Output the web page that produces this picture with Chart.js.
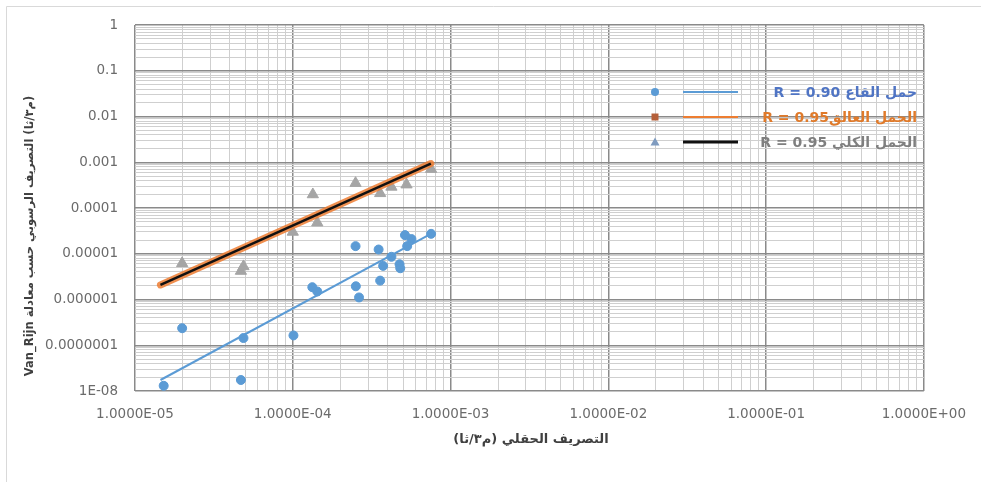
<!DOCTYPE html>
<html>
<head>
<meta charset="utf-8">
<script src="https://cdn.jsdelivr.net/npm/chart.js@4"></script>
<style>
  html, body { margin: 0; padding: 0; background: #fff; }
  #wrap { position: relative; width: 981px; height: 482px; }
</style>
</head>
<body>
<div id="wrap"><canvas id="chart"></canvas></div>
<script>
// field discharge (m3/s) vs Van Rijn sediment discharge
const bedQ = [1.52e-5, 1.99e-5, 4.87e-5, 4.69e-5, 1.01e-4, 1.33e-4, 1.43e-4, 2.5e-4, 2.51e-4, 2.63e-4,
  3.5e-4, 3.58e-4, 3.74e-4, 4.22e-4, 4.75e-4, 4.8e-4, 5.14e-4, 5.65e-4, 5.31e-4, 7.53e-4];
const bedLoad = [1.3e-8, 2.36e-7, 1.44e-7, 1.74e-8, 1.64e-7, 1.86e-6, 1.5e-6, 1.47e-5, 1.95e-6, 1.11e-6,
  1.24e-5, 2.59e-6, 5.44e-6, 8.6e-6, 5.9e-6, 4.83e-6, 2.56e-5, 2.1e-5, 1.47e-5, 2.73e-5];

const totalQ = [1.99e-5, 4.69e-5, 4.87e-5, 1.0e-4, 1.34e-4, 1.43e-4, 2.5e-4, 3.58e-4, 4.22e-4, 5.26e-4, 7.53e-4];
const totalLoad = [6.2e-6, 4.2e-6, 5.3e-6, 3.0e-5, 1.98e-4, 4.8e-5, 3.5e-4, 2.1e-4, 2.9e-4, 3.25e-4, 7.1e-4];
const suspQ = totalQ;
const suspLoad = [6.0e-6, 4.1e-6, 5.2e-6, 2.9e-5, 1.9e-4, 4.7e-5, 3.4e-4, 2.05e-4, 2.8e-4, 3.2e-4, 7.0e-4];

// trend line end points
const trendQ = [1.45e-5, 7.5e-4];
const bedTrend = [1.74e-8, 2.73e-5];
const suspTrend = [2.08e-6, 9.4e-4];
const totalTrend = [2.08e-6, 9.4e-4];

const xTickLabels = ["1.0000E-05", "1.0000E-04", "1.0000E-03", "1.0000E-02", "1.0000E-01", "1.0000E+00"];
const yTickLabels = ["1E-08", "0.0000001", "0.000001", "0.00001", "0.0001", "0.001", "0.01", "0.1", "1"];

const legendItems = [
  { text: "حمل القاع R = 0.90", color: "#4f74c4", line: "#5B9BD5", lw: 2, marker: "circle", mcolor: "#5B9BD5" },
  { text: "الحمل العالقR = 0.95", color: "#e07a2a", line: "#ED7D31", lw: 2, marker: "rect", mcolor: "#b5603a" },
  { text: "الحمل الكلي R = 0.95", color: "#7f7f7f", line: "#111111", lw: 3, marker: "triangle", mcolor: "#7f9bbf" },
];

const pts = (xs, ys) => xs.map((x, i) => ({ x, y: ys[i] }));

function logTicks(lo, hi) {
  const out = [];
  for (let e = lo; e < hi; e++) {
    for (let m = 1; m < 10; m++) out.push(m * Math.pow(10, e));
  }
  out.push(Math.pow(10, hi));
  return out;
}

const isMajor = (v) => Math.abs(Math.log10(v) - Math.round(Math.log10(v))) < 1e-6;

const gridColor = (ctx) => (ctx.tick && isMajor(ctx.tick.value) ? "#8a8a8a" : "#cfcfcf");
const gridWidth = (ctx) => (ctx.tick && isMajor(ctx.tick.value) ? 1.5 : 1);

const extras = {
  id: "extras",
  beforeDraw(chart) {
    const c = chart.ctx;
    c.save();
    c.strokeStyle = "#d9d9d9";
    c.lineWidth = 1;
    c.beginPath();
    c.moveTo(6.5, 482);
    c.lineTo(6.5, 6.5);
    c.lineTo(981, 6.5);
    c.stroke();
    c.restore();
  },
  afterDraw(chart) {
    const c = chart.ctx;
    c.save();
    // axis titles
    c.fillStyle = "#404040";
    c.font = "bold 13px 'DejaVu Sans'";
    c.direction = "rtl";
    c.textAlign = "center";
    c.textBaseline = "middle";
    c.fillText("التصريف الحقلي (م٣/ثا)", 531, 440);

    c.save();
    c.translate(30, 236);
    c.rotate(-Math.PI / 2);
    c.font = "bold 11.5px 'DejaVu Sans'";
    c.fillText("(م٣/ثا) التصريف الرسوبي حسب معادلة Van_Rijn", 0, 0);
    c.restore();

    // legend
    legendItems.forEach((it, i) => {
      const y = 92 + i * 25;
      c.fillStyle = it.mcolor;
      c.beginPath();
      if (it.marker === "circle") {
        c.arc(655, y, 4, 0, Math.PI * 2);
      } else if (it.marker === "rect") {
        c.rect(651.5, y - 3.5, 7, 7);
      } else {
        c.moveTo(655, y - 4.5);
        c.lineTo(659.5, y + 3.5);
        c.lineTo(650.5, y + 3.5);
        c.closePath();
      }
      c.fill();
      c.strokeStyle = it.line;
      c.lineWidth = it.lw;
      c.beginPath();
      c.moveTo(683, y);
      c.lineTo(738, y);
      c.stroke();
      c.fillStyle = it.color;
      c.font = "bold 14px 'DejaVu Sans'";
      c.direction = "rtl";
      c.textAlign = "right";
      c.fillText(it.text, 917, y + 1);
    });
    c.restore();
  },
};

new Chart(document.getElementById("chart"), {
  type: "scatter",
  data: {
    datasets: [
      {
        label: "الحمل الكلي trend",
        data: pts(trendQ, totalTrend),
        showLine: true,
        borderColor: "#111111",
        borderWidth: 2.5,
        pointRadius: 0,
        order: 0,
      },
      {
        label: "الحمل العالق trend",
        data: pts(trendQ, suspTrend),
        showLine: true,
        borderColor: "rgba(237, 125, 49, 0.85)",
        borderWidth: 7,
        borderCapStyle: "round",
        pointRadius: 0,
        order: 1,
      },
      {
        label: "الحمل الكلي",
        data: pts(totalQ, totalLoad),
        pointStyle: "triangle",
        pointRadius: 6.5,
        backgroundColor: "#a5a5a5",
        borderColor: "#a5a5a5",
        order: 2,
      },
      {
        label: "الحمل العالق",
        data: pts(suspQ, suspLoad),
        pointStyle: "rect",
        pointRadius: 2.5,
        backgroundColor: "#ED7D31",
        borderColor: "#ED7D31",
        order: 3,
      },
      {
        label: "حمل القاع trend",
        data: pts(trendQ, bedTrend),
        showLine: true,
        borderColor: "#5B9BD5",
        borderWidth: 2,
        pointRadius: 0,
        order: 4,
      },
      {
        label: "حمل القاع",
        data: pts(bedQ, bedLoad),
        pointStyle: "circle",
        pointRadius: 4.5,
        backgroundColor: "#5B9BD5",
        borderColor: "#5B9BD5",
        order: 5,
      },
    ],
  },
  options: {
    responsive: true,
    maintainAspectRatio: false,
    animation: false,
    layout: { padding: { top: 18, right: 46, left: 0, bottom: 0 } },
    plugins: { legend: { display: false }, tooltip: { enabled: false } },
    scales: {
      x: {
        type: "logarithmic",
        min: 1e-5,
        max: 1,
        afterBuildTicks: (s) => { s.ticks = logTicks(-5, 0).map((v) => ({ value: v })); },
        afterFit: (s) => { s.height = 91; },
        grid: { color: gridColor, lineWidth: gridWidth, drawTicks: false },
        border: { display: false },
        ticks: {
          autoSkip: false,
          maxRotation: 0,
          padding: 15,
          color: "#6b6b6b",
          font: { family: "DejaVu Sans", size: 13.5 },
          callback: (v) => (isMajor(v) ? xTickLabels[Math.round(Math.log10(v)) + 5] : ""),
        },
      },
      y: {
        type: "logarithmic",
        min: 1e-8,
        max: 1,
        afterBuildTicks: (s) => { s.ticks = logTicks(-8, 0).map((v) => ({ value: v })); },
        afterFit: (s) => { s.width = 135; },
        grid: { color: gridColor, lineWidth: gridWidth, drawTicks: false },
        border: { display: false },
        ticks: {
          autoSkip: false,
          padding: 17,
          color: "#6b6b6b",
          font: { family: "DejaVu Sans", size: 13.5 },
          callback: (v) => (isMajor(v) ? yTickLabels[Math.round(Math.log10(v)) + 8] : ""),
        },
      },
    },
  },
  plugins: [extras],
});
</script>
</body>
</html>
